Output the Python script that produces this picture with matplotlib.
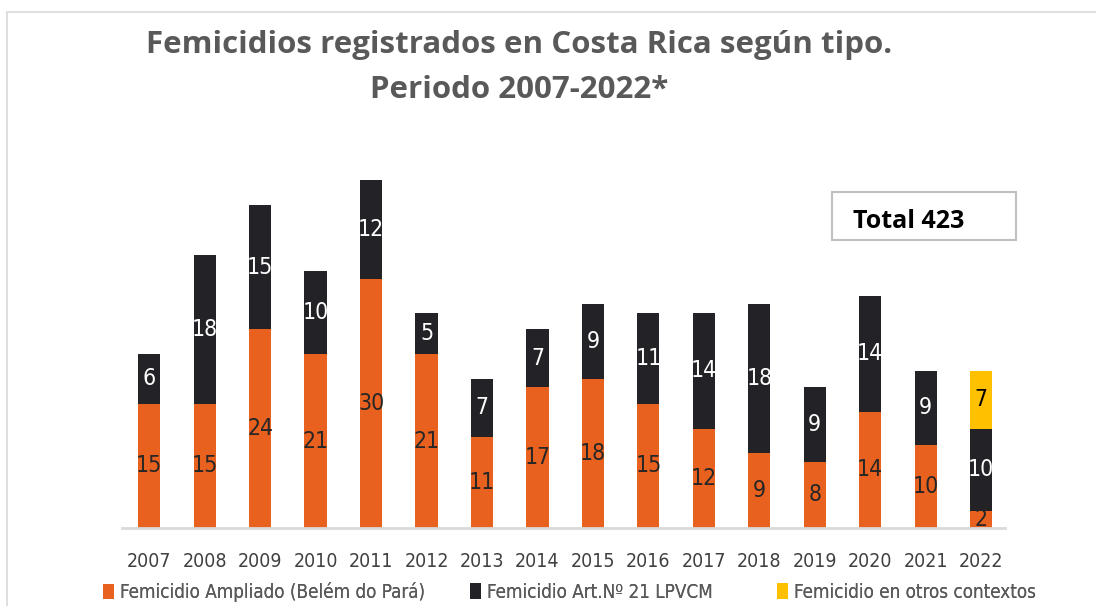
import matplotlib
matplotlib.use("Agg")
import matplotlib.pyplot as plt
from matplotlib.patches import Rectangle

años = ["2007", "2008", "2009", "2010", "2011", "2012", "2013", "2014",
        "2015", "2016", "2017", "2018", "2019", "2020", "2021", "2022"]
ampliado = [15, 15, 24, 21, 30, 21, 11, 17, 18, 15, 12, 9, 8, 14, 10, 2]
art21 = [6, 18, 15, 10, 12, 5, 7, 7, 9, 11, 14, 18, 9, 14, 9, 10]
otros = [0, 0, 0, 0, 0, 0, 0, 0, 0, 0, 0, 0, 0, 0, 0, 7]
total = sum(ampliado) + sum(art21) + sum(otros)

naranja = "#E9611F"
negro = "#232227"
amarillo = "#FFC000"
gris = "#595959"

W, H = 1096, 606
fig = plt.figure(figsize=(W / 100, H / 100), dpi=100)
narrow = dict(family="DejaVu Sans", stretch="condensed")

# marco del gráfico
fig.patches.append(Rectangle((7 / W, -0.1), 1.2, 1.1 - 12 / H, transform=fig.transFigure,
                             fill=False, edgecolor="#d9d9d9", linewidth=1.2))

ax = fig.add_axes([122 / W, 1 - 528 / H, (1005 - 122) / W, (528 - 180) / H])
x = list(range(len(años)))
ancho = 0.40

b1 = ax.bar(x, ampliado, ancho, color=naranja, label="Femicidio Ampliado (Belém do Pará)")
b2 = ax.bar(x, art21, ancho, bottom=ampliado, color=negro, label="Femicidio Art.Nº 21 LPVCM")
base3 = [a + b for a, b in zip(ampliado, art21)]
b3 = ax.bar(x, otros, ancho, bottom=base3, color=amarillo, label="Femicidio en otros contextos")

for i in x:
    ax.text(i, ampliado[i] / 2, str(ampliado[i]), ha="center", va="center",
            fontsize=16.5, color="#262626", **narrow)
    ax.text(i, ampliado[i] + art21[i] / 2, str(art21[i]), ha="center", va="center",
            fontsize=16.5, color="white", **narrow)
    if otros[i]:
        ax.text(i, base3[i] + otros[i] / 2, str(otros[i]), ha="center", va="center",
                fontsize=16.5, color="black", **narrow)

ax.set_xlim(-0.49, 15.43)
ax.set_ylim(0, 42)
ax.set_yticks([])
ax.set_xticks(x)
ax.set_xticklabels(años, fontsize=14, color="#404040", **narrow)
ax.tick_params(axis="x", length=0, pad=17)
for s in ["top", "right", "left"]:
    ax.spines[s].set_visible(False)
ax.spines["bottom"].set_color("#d9d9d9")
ax.spines["bottom"].set_linewidth(2)

fig.text(519 / W, 1 - 45 / H, "Femicidios registrados en Costa Rica según tipo.",
         ha="center", va="center", fontsize=22.5, fontweight="bold", color=gris,
         family="Open Sans")
fig.text(519 / W, 1 - 90 / H, "Periodo 2007-2022*", ha="center", va="center",
         fontsize=22.5, fontweight="bold", color=gris, family="Open Sans")

fig.patches.append(Rectangle((832 / W, 1 - 240 / H), 184 / W, 48 / H,
                             transform=fig.transFigure, fill=False,
                             edgecolor="#bfbfbf", linewidth=1.5))
fig.text(853 / W, 1 - 221 / H, f"Total {total}", ha="left", va="center",
         fontsize=18, fontweight="bold", color="black", family="Open Sans")

# leyenda: una entrada por posición, como en el original
for h, xpos in zip([b1, b2, b3], [103, 470, 777]):
    leg = fig.legend(handles=[h], loc="center left", bbox_to_anchor=(xpos / W, 1 - 592 / H),
                     frameon=False, handlelength=0.6, handleheight=0.9,
                     handletextpad=0.3, borderaxespad=0, borderpad=0,
                     prop={"family": "DejaVu Sans", "stretch": "condensed", "size": 13.5},
                     labelcolor=gris)
    fig.add_artist(leg)

fig.savefig("out.png", dpi=100)
